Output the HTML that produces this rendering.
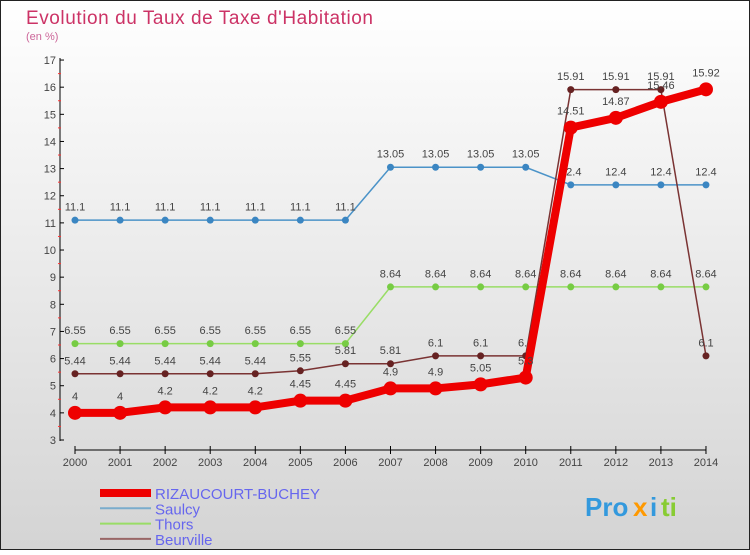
<!DOCTYPE html>
<html><head><meta charset="utf-8"><style>
body{margin:0}
#c{width:750px;height:550px;position:relative;font-family:"Liberation Sans",sans-serif}
</style></head><body>
<div id="c">
<svg id="s" width="750" height="550" xmlns="http://www.w3.org/2000/svg">
<defs><linearGradient id="bg" x1="0" y1="0" x2="0" y2="1"><stop offset="0" stop-color="#ffffff"/><stop offset="1" stop-color="#d4d4d4"/></linearGradient></defs>
<rect x="0.5" y="0.5" width="749" height="549" fill="url(#bg)" stroke="#222"/>
<text x="26" y="24" font-size="19" fill="#cc3366" textLength="347">Evolution du Taux de Taxe d'Habitation</text>
<text x="26" y="40" font-size="11" fill="#cc6699">(en %)</text>
<g id="axes"></g><g id="series"></g><g id="legend"></g>
<g font-size="26" font-weight="bold">
<text x="585" y="516" fill="#3399dd">Pro</text><text x="633" y="516" fill="#ff9900">x</text><text x="650" y="516" fill="#3399dd">i</text><text x="661" y="516" fill="#88cc33">ti</text>
</g>
</svg></div>
<script>
const years=[2000,2001,2002,2003,2004,2005,2006,2007,2008,2009,2010,2011,2012,2013,2014];
const yTicks=[3,4,5,6,7,8,9,10,11,12,13,14,15,16,17];
const rizaucourt=[4,4,4.2,4.2,4.2,4.45,4.45,4.9,4.9,5.05,5.3,14.51,14.87,15.46,15.92];
const saulcy=[11.1,11.1,11.1,11.1,11.1,11.1,11.1,13.05,13.05,13.05,13.05,12.4,12.4,12.4,12.4];
const thors=[6.55,6.55,6.55,6.55,6.55,6.55,6.55,8.64,8.64,8.64,8.64,8.64,8.64,8.64,8.64];
const beurville=[5.44,5.44,5.44,5.44,5.44,5.55,5.81,5.81,6.1,6.1,6.1,15.91,15.91,15.91,6.1];
const NS="http://www.w3.org/2000/svg";
const xs=i=>75+i*45.07, ys=v=>440-(v-3)*27.14;
function el(p,t,a){const e=document.createElementNS(NS,t);for(const k in a)e.setAttribute(k,a[k]);p.appendChild(e);return e;}
const ax=document.getElementById('axes');
let l=el(ax,'line',{x1:60,y1:58,x2:60,y2:441,stroke:'#000'});


l=el(ax,'line',{x1:75,y1:450,x2:706,y2:450,stroke:'#000'});


yTicks.forEach(v=>{const y=ys(v);el(ax,'line',{x1:60,y1:y,x2:64,y2:y,stroke:'#000'});
if(v<17)el(ax,'line',{x1:58,y1:y-13.57,x2:61,y2:y-13.57,stroke:'#f33'});
const t=el(ax,'text',{x:56,y:y+4,'font-size':11,fill:'#444','text-anchor':'end'});t.textContent=v;

});
years.forEach((yr,i)=>{const x=xs(i);el(ax,'line',{x1:x,y1:446,x2:x,y2:454,stroke:'#000'});
const t=el(ax,'text',{x:x,y:466,'font-size':11,fill:'#444','text-anchor':'middle'});t.textContent=yr;

});
const sg=document.getElementById('series');
function draw(name,data,color,w,r,dot){const g=el(sg,'g',{});


el(g,'polyline',{points:data.map((v,i)=>xs(i)+','+ys(v)).join(' '),fill:'none',stroke:color,'stroke-width':w});
data.forEach((v,i)=>{const c=el(g,'circle',{cx:xs(i),cy:ys(v),r:r,fill:dot});


const t=el(g,'text',{x:xs(i),y:ys(v)-(r+6),'font-size':11,fill:'#444','text-anchor':'middle'});t.textContent=v;});}
draw('saulcy',saulcy,'#4b93c8',1.5,3.5,'#3b86c2');
draw('thors',thors,'#99dd66',1.5,3.5,'#77cc44');
draw('beurville',beurville,'#7a3333',1.5,3.5,'#662222');
draw('rizaucourt',rizaucourt,'#ee0000',8,7,'#ee0000');
const lg=document.getElementById('legend');
[['RIZAUCOURT-BUCHEY','#ee0000',8],['Saulcy','#7aaccc',2],['Thors','#99dd66',2],['Beurville','#996666',2]].forEach((d,i)=>{
const y=493+i*15.3;const g=el(lg,'g',{});


el(g,'line',{x1:100,y1:y,x2:151,y2:y,stroke:d[1],'stroke-width':d[2]});
const t=el(g,'text',{x:155,y:y+6,'font-size':15,fill:'#6666ee'});t.textContent=d[0];
if(i===0)t.setAttribute('textLength','165');});
</script>
</body></html>
